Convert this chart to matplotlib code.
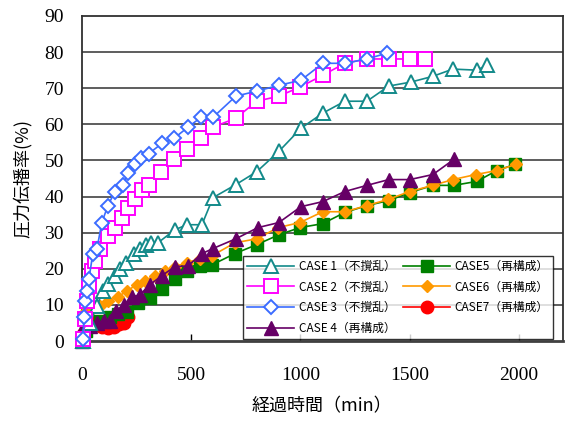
import matplotlib
matplotlib.use("Agg")
import matplotlib.pyplot as plt

plt.rcParams['font.family'] = ['Noto Sans CJK JP', 'DejaVu Sans']

# elapsed time (min) and pressure propagation ratio (%) per case
case1_t = [5, 37, 69, 96, 119, 151, 174, 201, 238, 265, 293, 316, 348, 425, 481, 549,
           600, 704, 800, 901, 1002, 1102, 1203, 1304, 1404, 1505, 1606, 1697, 1807, 1853]
case1_p = [0, 5, 9.7, 13.9, 15.8, 18, 20, 21.7, 24.2, 25.6, 26.7, 27.2, 27.2, 30.8, 32.2, 32.2,
           39.7, 43.3, 46.9, 52.5, 58.9, 63.1, 66.4, 66.4, 70.6, 71.7, 73.3, 75.3, 75, 76.4]

case2_t = [5, 14, 23, 32, 46, 59, 82, 119, 151, 183, 210, 242, 274, 306, 361, 421, 480,
           544, 599, 704, 800, 901, 997, 1102, 1203, 1304, 1404, 1500, 1569]
case2_p = [0.6, 6.1, 11.1, 15.3, 19.4, 22.2, 25.6, 29.2, 31.4, 34.2, 36.9, 39.4, 41.7, 43.3,
           46.9, 50.3, 53.3, 56.1, 59.2, 61.7, 66.4, 67.8, 70.3, 73.6, 76.9, 78.1, 78.1, 78.1, 78.1]

case3_t = [5, 9, 14, 23, 32, 50, 69, 91, 119, 151, 188, 210, 242, 270, 306, 366, 421, 485,
           544, 599, 704, 800, 901, 1002, 1102, 1203, 1304, 1395]
case3_p = [0.5, 6.7, 11.1, 13.9, 17.2, 24.2, 25.6, 32.8, 37.5, 41.4, 43.3, 46.4, 48.9, 50.6,
           51.9, 54.7, 56.1, 59.2, 61.9, 61.9, 67.8, 69.2, 70.8, 72.2, 76.9, 76.9, 78.1, 79.7]

case4_t = [0, 2, 37, 69, 101, 128, 156, 192, 229, 265, 311, 366, 425, 485, 549, 599, 704,
           805, 901, 1002, 1102, 1203, 1304, 1404, 1500, 1606, 1702]
case4_p = [0, 3, 4.2, 5, 5.6, 5.6, 8.3, 10, 12.2, 12.8, 15.6, 18.1, 20.6, 20.8, 24.2, 25.6,
           28.3, 31.4, 32.8, 37.2, 38.6, 41.4, 43.1, 44.7, 44.7, 46.1, 50.3]

case5_t = [0, 18, 37, 82, 128, 165, 206, 256, 311, 366, 425, 480, 540, 595, 700, 800, 901,
           997, 1102, 1203, 1304, 1404, 1500, 1606, 1702, 1807, 1898, 1981]
case5_p = [0, 2.8, 4.2, 5.6, 6.7, 7.5, 8.1, 10.6, 11.9, 14.4, 17.2, 19.4, 20.8, 21.1, 24.2,
           26.7, 29.4, 31.4, 32.5, 35.6, 37.5, 38.9, 41.1, 43.1, 43.1, 44.2, 47.2, 48.9]

case6_t = [0, 3, 18, 50, 82, 119, 165, 206, 252, 288, 334, 380, 425, 480, 540, 595, 700,
           800, 897, 997, 1102, 1203, 1304, 1400, 1500, 1606, 1697, 1802, 1898, 1985]
case6_p = [1.4, 6.1, 8.3, 9.2, 9.7, 11.1, 12.2, 13.9, 15.6, 16.7, 18.1, 19.4, 20.6, 21.7,
           22.8, 23.6, 27.2, 28.3, 31.4, 32.8, 35.8, 35.8, 37.5, 39.2, 41.4, 43.1, 44.7, 46.1,
           47.2, 48.9]

case7_t = [5, 23, 46, 69, 91, 119, 146, 169, 192, 210]
case7_p = [1.9, 4.2, 5.6, 5, 3.9, 3.6, 3.9, 4.7, 5, 6.7]

labels = ['CASE 1（不撹乱）', 'CASE 2（不撹乱）', 'CASE 3（不撹乱）', 'CASE 4（再構成）',
          'CASE5（再構成）', 'CASE6（再構成）', 'CASE7（再構成）']

fig = plt.figure(figsize=(5.65, 4.21), dpi=100)
ax = fig.add_axes([0.145, 0.19, 0.851, 0.772])

for y in range(10, 90, 10):
    ax.axhline(y, color='#505050', lw=1.3, zorder=0)

lw = 1.2
ax.plot(case1_t, case1_p, '-^', color='#138a8a', mfc='white', mec='#138a8a', ms=10,
        mew=1.4, lw=lw, label=labels[0], zorder=5, clip_on=False)
ax.plot(case2_t, case2_p, '-s', color='#ff00ff', mfc='white', mec='#ff00ff', ms=10,
        mew=1.4, lw=lw, label=labels[1], zorder=6, clip_on=False)
ax.plot(case3_t, case3_p, '-D', color='#3b6cff', mfc='white', mec='#3b6cff', ms=7,
        mew=1.4, lw=lw, label=labels[2], zorder=7, clip_on=False)
ax.plot(case4_t, case4_p, '-^', color='#660066', ms=10, lw=lw, label=labels[3],
        zorder=4, clip_on=False)
ax.plot(case5_t, case5_p, '-s', color='#008000', ms=8, lw=lw, label=labels[4],
        zorder=2, clip_on=False)
ax.plot(case6_t, case6_p, '-D', color='#ff9900', ms=6.5, lw=lw, label=labels[5],
        zorder=3, clip_on=False)
ax.plot(case7_t, case7_p, '-o', color='#ff0000', ms=9, lw=lw, label=labels[6],
        zorder=1, clip_on=False)

ax.set_xlim(0, 2200)
ax.set_ylim(0, 90)
ax.set_xticks([0, 500, 1000, 1500, 2000])
ax.set_yticks(range(0, 91, 10))
ax.tick_params(axis='x', direction='in', length=5, width=1, pad=19)
ax.tick_params(axis='y', direction='in', length=0, pad=13)
for lab in ax.get_xticklabels() + ax.get_yticklabels():
    lab.set_family('Liberation Serif')
    lab.set_fontsize(14)
for side in ['left', 'top', 'right']:
    ax.spines[side].set_color('#303030')
    ax.spines[side].set_linewidth(1.3)
ax.spines['bottom'].set_color('#404040')
ax.spines['bottom'].set_linewidth(2)

ax.set_xlabel('経過時間（min）', fontsize=13, labelpad=9)
ax.set_ylabel('圧力伝播率(%)', fontsize=13, labelpad=9)

leg = ax.legend(loc='lower left', bbox_to_anchor=(0.335, 0.006), ncol=2,
                fontsize=8.5, frameon=True, fancybox=False, edgecolor='black',
                handlelength=4, borderaxespad=0, columnspacing=0.6,
                handletextpad=0.4, labelspacing=0.65, borderpad=0.35)
leg.get_frame().set_linewidth(1.0)
leg.set_zorder(10)

fig.savefig('out.png', dpi=100)
